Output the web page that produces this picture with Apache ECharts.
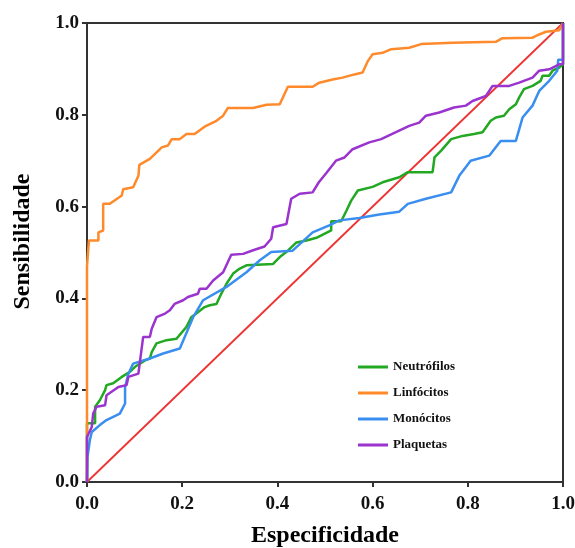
<!DOCTYPE html>
<html>
<head>
<meta charset="utf-8">
<script src="https://cdn.jsdelivr.net/npm/echarts@6/dist/echarts.min.js"></script>
<style>
  html, body { margin: 0; padding: 0; background: #fff; }
  #roc { width: 575px; height: 548px; }
</style>
</head>
<body>
<div id="roc"></div>
<script>
// curvas ROC: [1 - especificidade, sensibilidade]
var seriesNames = ['Neutrófilos', 'Linfócitos', 'Monócitos', 'Plaquetas'];
var tickLabels = ['0.0', '0.2', '0.4', '0.6', '0.8', '1.0'];

var neutrofilos = [[0,0],[0,0.128],[0.017,0.128],[0.017,0.164],[0.027,0.178],[0.038,0.2],[0.041,0.211],[0.055,0.215],[0.073,0.229],[0.090,0.240],[0.101,0.251],[0.122,0.265],[0.132,0.269],[0.136,0.283],[0.146,0.302],[0.167,0.309],[0.188,0.312],[0.209,0.338],[0.219,0.359],[0.233,0.370],[0.247,0.381],[0.258,0.385],[0.272,0.388],[0.282,0.410],[0.293,0.432],[0.307,0.454],[0.321,0.465],[0.335,0.472],[0.391,0.475],[0.405,0.490],[0.422,0.504],[0.440,0.522],[0.461,0.526],[0.482,0.532],[0.513,0.548],[0.513,0.568],[0.534,0.568],[0.545,0.591],[0.555,0.613],[0.569,0.635],[0.600,0.643],[0.621,0.653],[0.656,0.664],[0.674,0.675],[0.726,0.675],[0.730,0.707],[0.744,0.722],[0.765,0.747],[0.789,0.754],[0.813,0.758],[0.831,0.762],[0.848,0.787],[0.859,0.794],[0.876,0.798],[0.887,0.812],[0.901,0.823],[0.908,0.838],[0.918,0.856],[0.936,0.863],[0.953,0.874],[0.957,0.885],[0.971,0.885],[0.978,0.896],[0.992,0.903],[1,0.91],[1,1]];

var linfocitos = [[0,0],[0,0.47],[0.004,0.47],[0.004,0.526],[0.024,0.526],[0.024,0.544],[0.034,0.548],[0.034,0.606],[0.048,0.606],[0.073,0.624],[0.076,0.638],[0.097,0.642],[0.108,0.667],[0.11,0.691],[0.132,0.704],[0.150,0.722],[0.157,0.729],[0.170,0.733],[0.178,0.747],[0.195,0.747],[0.209,0.758],[0.226,0.758],[0.247,0.774],[0.272,0.787],[0.286,0.798],[0.296,0.815],[0.349,0.815],[0.377,0.822],[0.405,0.823],[0.422,0.861],[0.474,0.861],[0.488,0.870],[0.516,0.877],[0.537,0.881],[0.562,0.888],[0.579,0.892],[0.590,0.917],[0.600,0.932],[0.621,0.935],[0.639,0.943],[0.677,0.946],[0.702,0.954],[0.768,0.957],[0.859,0.959],[0.873,0.967],[0.936,0.968],[0.950,0.975],[0.964,0.981],[0.992,0.984],[1,1]];

var monocitos = [[0,0],[0.001,0.055],[0.006,0.091],[0.01,0.109],[0.027,0.124],[0.041,0.135],[0.069,0.149],[0.080,0.171],[0.080,0.207],[0.087,0.236],[0.097,0.258],[0.132,0.269],[0.160,0.280],[0.195,0.291],[0.223,0.359],[0.244,0.396],[0.293,0.425],[0.335,0.457],[0.363,0.483],[0.387,0.501],[0.432,0.504],[0.474,0.544],[0.509,0.559],[0.530,0.570],[0.572,0.575],[0.614,0.583],[0.656,0.589],[0.674,0.606],[0.712,0.617],[0.765,0.631],[0.782,0.667],[0.806,0.700],[0.845,0.711],[0.869,0.743],[0.901,0.743],[0.915,0.794],[0.936,0.820],[0.950,0.852],[0.971,0.874],[0.988,0.896],[0.99,0.92],[1,0.92],[1,1]];

var plaquetas = [[0,0],[0,0.098],[0.01,0.12],[0.013,0.149],[0.02,0.164],[0.038,0.167],[0.041,0.189],[0.066,0.207],[0.083,0.211],[0.087,0.229],[0.108,0.236],[0.118,0.316],[0.132,0.316],[0.136,0.334],[0.146,0.359],[0.164,0.367],[0.174,0.374],[0.184,0.388],[0.202,0.396],[0.212,0.403],[0.233,0.410],[0.237,0.421],[0.251,0.421],[0.265,0.439],[0.286,0.457],[0.303,0.495],[0.328,0.497],[0.349,0.505],[0.373,0.513],[0.387,0.53],[0.391,0.555],[0.419,0.562],[0.429,0.617],[0.447,0.628],[0.474,0.631],[0.487,0.653],[0.502,0.672],[0.523,0.700],[0.541,0.707],[0.558,0.725],[0.593,0.740],[0.618,0.747],[0.649,0.762],[0.677,0.776],[0.698,0.783],[0.712,0.798],[0.740,0.805],[0.771,0.816],[0.796,0.820],[0.810,0.830],[0.838,0.841],[0.852,0.863],[0.887,0.863],[0.908,0.870],[0.936,0.881],[0.950,0.896],[0.971,0.899],[0.992,0.910],[1,0.91],[1,1]];

var diagonal = [[0,0],[1,1]];

var colors = ['#22a822', '#ff8a2b', '#3a8eef', '#9b33cf'];
var serif = 'Liberation Serif';

var roc_chart = echarts.init(document.getElementById('roc'));

function curve(name, data, color) {
    return {
        name: name,
        type: 'line',
        data: data,
        showSymbol: false,
        animation: false,
        lineStyle: { color: color, width: 2.5 },
        itemStyle: { color: color }
    };
}

function axisOf(name, gap, isY) {
    return {
        type: 'value',
        min: 0,
        max: 1,
        interval: 0.2,
        name: name,
        nameLocation: 'middle',
        nameGap: gap,
        nameTextStyle: {
            fontFamily: serif, fontWeight: 'bold', fontSize: 24, color: '#000',
            padding: isY ? [0, 0, 0, 22] : 0
        },
        axisLine: { show: true, lineStyle: { color: '#333', width: 2 } },
        axisTick: { show: true, length: 5, lineStyle: { color: '#333', width: 2 } },
        axisLabel: {
            fontFamily: serif, fontWeight: 'bold', fontSize: 19, color: '#111',
            margin: isY ? 8 : 13,
            formatter: function (v) { return tickLabels[Math.round(v / 0.2)]; }
        },
        splitLine: { show: false }
    };
}

var option = {
    backgroundColor: '#fff',
    grid: {
        left: 87, right: 12, top: 23, bottom: 66,
        outerBoundsMode: 'none',
        show: true, borderColor: '#333', borderWidth: 2
    },
    legend: {
        data: seriesNames,
        orient: 'vertical',
        left: 353,
        top: 355,
        icon: 'rect',
        itemWidth: 30,
        itemHeight: 3,
        itemGap: 12,
        textStyle: { fontFamily: serif, fontWeight: 'bold', fontSize: 13, color: '#111', lineHeight: 14 },
        selectedMode: false
    },
    xAxis: axisOf('Especificidade', 42, false),
    yAxis: axisOf('Sensibilidade', 52, true),
    series: [
        {
            name: 'ref',
            type: 'line',
            data: diagonal,
            showSymbol: false,
            animation: false,
            lineStyle: { color: '#ee3333', width: 1.8 }
        },
        curve(seriesNames[0], neutrofilos, colors[0]),
        curve(seriesNames[1], linfocitos, colors[1]),
        curve(seriesNames[2], monocitos, colors[2]),
        curve(seriesNames[3], plaquetas, colors[3])
    ]
};

roc_chart.setOption(option);
</script>
</body>
</html>
